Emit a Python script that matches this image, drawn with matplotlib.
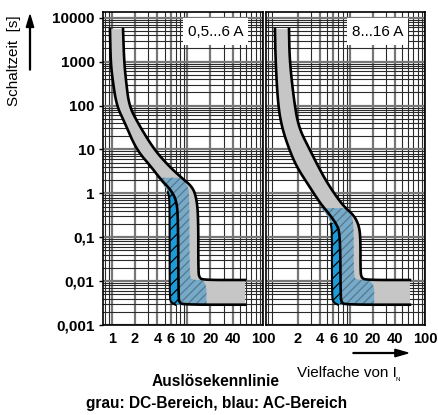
import numpy as np
import matplotlib

matplotlib.use("Agg")
import matplotlib.pyplot as plt
from matplotlib import ticker
from matplotlib.patches import FancyArrow, Rectangle

plt.rcParams["font.family"] = ["Liberation Sans", "DejaVu Sans"]
plt.rcParams["hatch.linewidth"] = 0.9

DC_GREY = "#c6c6c6"
AC_LIGHT = "#76aac8"
AC_DARK = "#1c9bd8"

# Panel 0,5...6 A  (current multiple I/IN, time t in s)
left_dc_lower_I = [0.94, 0.96, 1.02, 1.15, 1.48, 2.1, 3.3, 4.5, 6.0, 7.1, 7.5, 7.6, 7.8, 8.6, 58]
left_dc_lower_t = [5500, 1000, 380, 100, 40, 10, 4, 2.0, 1.2, 0.7, 0.3, 0.0045, 0.0033, 0.0029, 0.0029]
left_dc_upper_I = [1.40, 1.45, 1.53, 1.68, 2.2, 3.6, 5.8, 8.5, 11.6, 13.1, 13.9, 13.9, 14.4, 16, 58]
left_dc_upper_t = [5500, 1000, 380, 100, 40, 10, 4, 2.2, 1.4, 0.8, 0.3, 0.016, 0.012, 0.0106, 0.0106]
left_ac_left_I = [4.06, 5.0, 5.63, 5.8, 5.8, 6.0, 6.9]
left_ac_left_t = [2.26, 1.42, 1.0, 0.59, 0.0045, 0.0033, 0.0029]
left_ac_right_I = [8.5, 10.0, 10.6, 10.6, 11.5, 17.8, 17.8]
left_ac_right_t = [2.26, 1.5, 1.0, 0.013, 0.0106, 0.0106, 0.0029]
left_dark_top = 1.1

# Panel 8...16 A
right_dc_lower_I = [1.0, 1.02, 1.1, 1.25, 1.55, 1.95, 2.9, 4.0, 5.2, 6.6, 7.4, 7.5, 7.7, 8.6, 63]
right_dc_lower_t = [5500, 1000, 100, 30, 10, 4, 1.4, 0.6, 0.35, 0.2, 0.12, 0.0045, 0.0033, 0.0029, 0.0029]
right_dc_upper_I = [1.54, 1.57, 1.83, 2.1, 2.9, 3.8, 5.0, 7.9, 11.2, 13.1, 13.8, 13.8, 14.3, 16, 63]
right_dc_upper_t = [5500, 1000, 100, 30, 10, 4, 1.7, 0.54, 0.32, 0.19, 0.1, 0.016, 0.012, 0.0106, 0.0106]
right_ac_left_I = [4.1, 5.1, 5.6, 5.75, 5.75, 6.0, 6.9]
right_ac_left_t = [0.46, 0.3, 0.2, 0.12, 0.0045, 0.0033, 0.0029]
right_ac_right_I = [9.0, 10.8, 11.2, 11.2, 12.2, 21, 21]
right_ac_right_t = [0.46, 0.3, 0.15, 0.013, 0.0106, 0.0106, 0.0029]
right_dark_top = 0.21

y_ticks = [10000, 1000, 100, 10, 1, 0.1, 0.01, 0.001]
y_tick_labels = ["10000", "1000", "100", "10", "1", "0,1", "0,01", "0,001"]
left_x_ticks = [1, 2, 4, 6, 10, 20, 40, 100]
right_x_ticks = [2, 4, 6, 10, 20, 40, 100]

X_LIM = (0.76, 100)
Y_LIM = (0.001, 13500)


def smooth(i_pts, t_pts, n=3):
    # Chaikin corner cutting in log-log space
    p = np.column_stack([np.log10(i_pts), np.log10(t_pts)])
    for _ in range(n):
        q = 0.75 * p[:-1] + 0.25 * p[1:]
        r = 0.25 * p[:-1] + 0.75 * p[1:]
        mid = np.empty((2 * len(q), 2))
        mid[0::2] = q
        mid[1::2] = r
        p = np.vstack([p[:1], mid, p[-1:]])
    return 10 ** p[:, 0], 10 ** p[:, 1]


def log_interp(t, t_pts, i_pts):
    order = np.argsort(t_pts, kind="stable")
    return 10 ** np.interp(np.log10(t), np.log10(t_pts[order]), np.log10(i_pts[order]))


def draw_panel(ax, dc_lo, dc_up, ac_l, ac_r, dark_top, label, box):
    ax.set_xscale("log")
    ax.set_yscale("log")
    ax.set_xlim(X_LIM)
    ax.set_ylim(Y_LIM)

    # Grid
    ax.xaxis.set_minor_locator(ticker.LogLocator(base=10, subs=np.arange(2, 10)))
    ax.yaxis.set_minor_locator(ticker.LogLocator(base=10, subs=np.arange(2, 10), numticks=20))
    ax.grid(which="minor", color="#2a2a2a", linewidth=0.8)
    ax.grid(which="major", color="#777777", linewidth=1.6)
    ax.set_axisbelow(True)

    lo_I, lo_t = smooth(*dc_lo)
    up_I, up_t = smooth(*dc_up)
    al_I, al_t = smooth(*ac_l)
    ar_I, ar_t = smooth(*ac_r, n=2)

    # DC band
    ax.fill(np.r_[lo_I, up_I[::-1]], np.r_[lo_t, up_t[::-1]], color=DC_GREY,
            linewidth=0, zorder=3)

    # AC region overlapping the DC band
    ax.fill(np.r_[al_I, ar_I[::-1]], np.r_[al_t, ar_t[::-1]], facecolor=AC_LIGHT,
            edgecolor="#55788c", hatch="////", linewidth=0, zorder=4)

    # AC region outside the DC band
    keep = lo_I < 9
    tt = np.logspace(np.log10(0.0030), np.log10(dark_top), 300)
    i_ac = log_interp(tt, al_t, al_I)
    i_dc = log_interp(tt, lo_t[keep], lo_I[keep])
    ax.fill_betweenx(tt, i_ac, i_dc, where=i_dc > i_ac, facecolor=AC_DARK,
                     edgecolor="black", hatch="///", linewidth=0, zorder=5)
    sel = al_t <= dark_top
    ax.plot(al_I[sel], al_t[sel], color="black", linewidth=1.5, zorder=6)

    # Outlines of the DC band
    ax.plot(lo_I, lo_t, color="black", linewidth=1.9, zorder=6)
    ax.plot(up_I, up_t, color="black", linewidth=1.9, zorder=6)

    for s in ax.spines.values():
        s.set_linewidth(1.2)
        s.set_zorder(7)

    x0, x1, y0, y1 = box
    ax.add_patch(Rectangle((x0, y0), x1 - x0, y1 - y0, transform=ax.transAxes,
                           facecolor="white", edgecolor="none", zorder=8))
    ax.text((x0 + x1) / 2, 0.936, label, transform=ax.transAxes, ha="center",
            va="center", fontsize=11, zorder=9)


fig = plt.figure(figsize=(4.38, 4.15), dpi=100)
ax1 = fig.add_axes([103 / 438, 90 / 415, 160 / 438, 313 / 415])
ax2 = fig.add_axes([266 / 438, 90 / 415, 159 / 438, 313 / 415])

draw_panel(ax1, (left_dc_lower_I, left_dc_lower_t), (left_dc_upper_I, left_dc_upper_t),
           (left_ac_left_I, left_ac_left_t), (left_ac_right_I, left_ac_right_t),
           left_dark_top, "0,5...6 A", (0.50, 0.906, 0.895, 0.981))
draw_panel(ax2, (right_dc_lower_I, right_dc_lower_t), (right_dc_upper_I, right_dc_upper_t),
           (right_ac_left_I, right_ac_left_t), (right_ac_right_I, right_ac_right_t),
           right_dark_top, "8...16 A", (0.51, 0.892, 0.895, 0.981))

for ax, xt in ((ax1, left_x_ticks), (ax2, right_x_ticks)):
    ax.set_xticks(xt)
    ax.set_xticklabels([str(v) for v in xt], fontsize=10.5, fontweight="bold")
    ax.tick_params(axis="x", which="both", length=0, pad=5)
    ax.tick_params(axis="y", which="minor", length=0)

ax1.set_yticks(y_ticks)
ax1.set_yticklabels(y_tick_labels, fontsize=11, fontweight="bold")
ax1.tick_params(axis="y", which="major", length=3, width=1, pad=3)
ax2.set_yticks(y_ticks)
ax2.set_yticklabels([])
ax2.tick_params(axis="y", which="major", length=0)

# Axis captions with arrows
fig.text(14 / 438, 1 - 61 / 415, "Schaltzeit  [s]", rotation=90, ha="center",
         va="center", fontsize=11)
fig.patches.append(FancyArrow(
    30 / 438, 1 - 70 / 415, 0, 55 / 415, width=0.002, head_width=0.017,
    head_length=0.03, length_includes_head=True, color="black",
    transform=fig.transFigure, figure=fig))
fig.patches.append(FancyArrow(
    353 / 438, 1 - 353 / 415, 55 / 438, 0, width=0.002, head_width=0.018,
    head_length=0.03, length_includes_head=True, color="black",
    transform=fig.transFigure, figure=fig))
fig.text(297 / 438, 1 - 373 / 415, "Vielfache von I", ha="left", va="center",
         fontsize=11)
fig.text(396 / 438, 1 - 379 / 415, "N", ha="left", va="center", fontsize=4.5)

fig.text(216 / 438, 1 - 381 / 415, "Auslösekennlinie", ha="center", va="center",
         fontsize=11.2, fontweight="bold")
fig.text(217 / 438, 1 - 403 / 415, "grau: DC-Bereich, blau: AC-Bereich",
         ha="center", va="center", fontsize=11.2, fontweight="bold")

fig.savefig("out.png", dpi=100)
plt.close(fig)
